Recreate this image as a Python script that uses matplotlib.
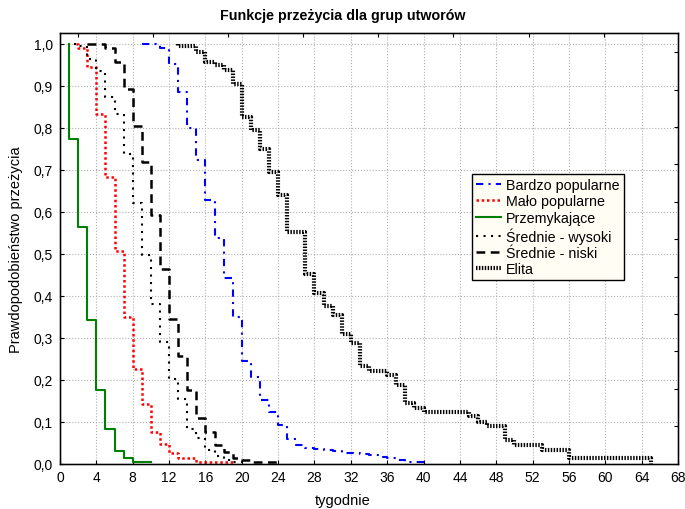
import matplotlib
matplotlib.use("Agg")
import matplotlib.pyplot as plt
import numpy as np

plt.rcParams.update({
    'font.family': ['Liberation Sans', 'DejaVu Sans'],
    'font.size': 10,
    'xtick.labelsize': 10,
    'ytick.labelsize': 10,
})

# ---- dane (tydzien, prawdopodobienstwo przezycia) ----
bardzo_t = [9, 11, 12, 13, 14, 15, 16, 17, 18, 19, 20, 21, 22, 23, 24, 25, 26,
            27, 28, 29, 30, 31, 32, 33, 34, 35, 36, 37, 38, 40]
bardzo_s = [1.0, 0.99, 0.952, 0.885, 0.798, 0.723, 0.627, 0.536, 0.442, 0.349,
            0.245, 0.207, 0.152, 0.122, 0.091, 0.059, 0.043, 0.038, 0.035, 0.032,
            0.029, 0.026, 0.024, 0.022, 0.020, 0.016, 0.012, 0.008, 0.004, 0.004]

malo_t = [1.8, 2, 3, 4, 5, 6, 7, 8, 9, 10, 11, 12, 13, 15, 19]
malo_s = [1.0, 0.99, 0.943, 0.831, 0.683, 0.505, 0.350, 0.224, 0.141, 0.076,
          0.047, 0.025, 0.012, 0.004, 0.004]

przem_t = [1, 1, 2, 3, 4, 5, 6, 7, 8, 10]
przem_s = [1.0, 0.772, 0.562, 0.342, 0.176, 0.081, 0.029, 0.0135, 0.004, 0.004]

sr_wys_t = [1.5, 2, 3, 4, 5, 6, 7, 8, 9, 10, 11, 12, 13, 14, 15, 16, 17, 18, 19, 20]
sr_wys_s = [1.0, 0.993, 0.962, 0.935, 0.873, 0.833, 0.737, 0.620, 0.496, 0.379,
            0.290, 0.201, 0.154, 0.083, 0.060, 0.033, 0.017, 0.008, 0.003, 0.003]

sr_nis_t = [3, 5, 6, 7, 8, 9, 10, 11, 12, 13, 14, 15, 16, 17, 18, 19, 20, 21, 24]
sr_nis_s = [1.0, 0.99, 0.957, 0.891, 0.803, 0.719, 0.592, 0.464, 0.344, 0.257,
            0.174, 0.109, 0.075, 0.043, 0.028, 0.014, 0.008, 0.004, 0.004]

elita_t = [13, 13, 15, 16, 17, 18, 19, 20, 21, 22, 23, 24, 25, 27, 28, 29, 30, 31,
           32, 33, 34, 36, 37, 38, 39, 40, 45, 46, 47, 49, 50, 53, 56, 65, 65]
elita_s = [1.0, 0.993, 0.979, 0.957, 0.948, 0.936, 0.904, 0.825, 0.794, 0.749,
           0.693, 0.640, 0.551, 0.452, 0.407, 0.374, 0.353, 0.308, 0.287, 0.233,
           0.220, 0.211, 0.187, 0.145, 0.133, 0.122, 0.112, 0.100, 0.089, 0.055,
           0.043, 0.032, 0.014, 0.014, 0.0]

x_ticks = list(range(0, 69, 4))
y_ticks = [0.0, 0.1, 0.2, 0.3, 0.4, 0.5, 0.6, 0.7, 0.8, 0.9, 1.0]

fig = plt.figure(figsize=(6.85, 5.10), dpi=100)
ax = fig.add_axes([0.0876, 0.0892, 0.9022, 0.8441])

ax.plot(bardzo_t, bardzo_s, drawstyle='steps-post', color='#0000ff', lw=1.5,
        linestyle=(0, (3.5, 2.5, 1, 2.5)), label='Bardzo popularne')
ax.plot(malo_t, malo_s, drawstyle='steps-post', color='#ff0000', lw=1.8,
        linestyle=(0, (1, 1.1)), label='Mało popularne')
ax.plot(przem_t, przem_s, drawstyle='steps-post', color='#008000', lw=1.5,
        linestyle='-', label='Przemykające')
ax.plot(sr_wys_t, sr_wys_s, drawstyle='steps-post', color='black', lw=1.5,
        linestyle=(0, (1, 2.6)), label='Średnie - wysoki')
ax.plot(sr_nis_t, sr_nis_s, drawstyle='steps-post', color='black', lw=1.8,
        linestyle=(0, (3.5, 2.2)), label='Średnie - niski')
ax.plot(elita_t, elita_s, drawstyle='steps-post', color='black', lw=3,
        linestyle=(0, (0.35, 0.35)), label='Elita')

ax.set_xlim(0, 68)
ax.set_ylim(0, 1.025)
ax.set_xticks(x_ticks)
ax.set_yticks(y_ticks)
ax.set_yticklabels([f'{v:.1f}'.replace('.', ',') for v in y_ticks])
ax.tick_params(direction='in', length=3, width=0.8, pad=5)
ax.grid(True, linestyle=':', color='#b0b0b0', linewidth=0.8)
ax.set_axisbelow(True)
for sp in ax.spines.values():
    sp.set_linewidth(1.0)

# dodatkowe kreski na gornej i prawej osi (jak w STATISTICA)
top = ax.twiny()
top.set_xlim(ax.get_xlim())
top.set_xticks(np.arange(1.93, 68, 8.27))
top.tick_params(direction='in', length=3, labeltop=False)
right = ax.twinx()
right.set_ylim(ax.get_ylim())
right.set_yticks(np.arange(0.089, 1.0, 0.089))
right.tick_params(direction='in', length=3, labelright=False)

fig.text(0.5, 1 - 16 / 510, 'Funkcje przeżycia dla grup utworów',
         fontsize=10.3, fontweight='bold', ha='center', va='center')
fig.text(0.5, 1 - 501 / 510, 'tygodnie', fontsize=10.5, ha='center', va='center')
ax.set_ylabel('Prawdopodobieństwo przeżycia', fontsize=10.5)
ax.yaxis.set_label_coords(-0.06, 0.5)

leg = ax.legend(loc='upper left', bbox_to_anchor=(0.667, 0.673), fontsize=10.3,
                fancybox=False, framealpha=1, edgecolor='black',
                facecolor='#fffdf4', handlelength=1.7, labelspacing=0.17,
                borderpad=0.28, handletextpad=0.4, borderaxespad=0)
leg.get_frame().set_linewidth(1.0)

fig.savefig('out.png', dpi=100, facecolor='white')
